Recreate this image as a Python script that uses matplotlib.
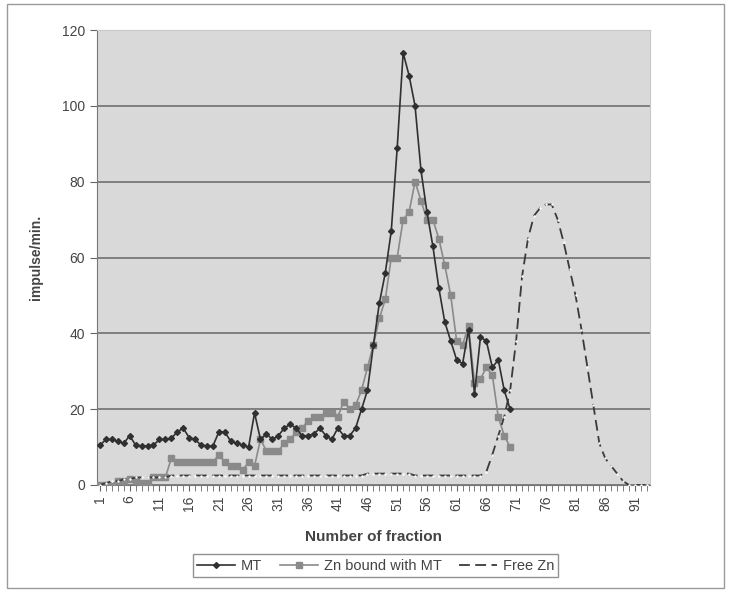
import matplotlib.pyplot as plt
from matplotlib.patches import Rectangle
from matplotlib.ticker import MultipleLocator

plt.rcParams['font.family'] = ['Liberation Sans', 'DejaVu Sans']

# fraction numbers on the category axis
fractions = list(range(1, 94))
tick_labels = [str(f) for f in range(1, 92, 5)]

# MT, fractions 1-70
mt = [10.5, 12, 12, 11.5, 11, 13, 10.5, 10.3, 10.3, 10.5,
      12, 12, 12.3, 14, 15, 12.5, 12, 10.5, 10.3, 10.3,
      14, 14, 11.5, 11, 10.5, 10, 19, 12, 13.5, 12,
      13, 15, 16, 15, 13, 13, 13.5, 15, 13, 12,
      15, 13, 13, 15, 20, 25, 37, 48, 56, 67,
      89, 114, 108, 100, 83, 72, 63, 52, 43, 38,
      33, 32, 41, 24, 39, 38, 31, 33, 25, 20]

# Zn bound with MT, fractions 1-70
zn_bound = [0, 0, 0, 1, 1, 1.5, 1, 0.5, 0.5, 2,
            2, 2, 7, 6, 6, 6, 6, 6, 6, 6,
            8, 6, 5, 5, 4, 6, 5, 12, 9, 9,
            9, 11, 12, 14, 15, 17, 18, 18, 19, 19,
            18, 22, 20, 21, 25, 31, 37, 44, 49, 60,
            60, 70, 72, 80, 75, 70, 70, 65, 58, 50,
            38, 37, 42, 27, 28, 31, 29, 18, 13, 10]

# Free Zn, fractions 1-93
free_zn = [0, 0.5, 1, 1, 1.5, 1.5, 2, 2, 2, 2,
           2, 2, 2.5, 2.5, 2.5, 2.5, 2.5, 2.5, 2.5, 2.5,
           2.5, 2.5, 2.5, 2.5, 2.5, 2.5, 2.5, 2.5, 2.5, 2.5,
           2.5, 2.5, 2.5, 2.5, 2.5, 2.5, 2.5, 2.5, 2.5, 2.5,
           2.5, 2.5, 2.5, 2.5, 2.5, 3, 3, 3, 3, 3,
           3, 3, 3, 2.5, 2.5, 2.5, 2.5, 2.5, 2.5, 2.5,
           2.5, 2.5, 2.5, 2.5, 2.5, 3.5, 8, 13, 18, 25,
           38, 55, 65, 71, 73, 74, 74, 70, 64, 57,
           50, 41, 31, 21, 11, 7, 5, 3, 1, 0,
           0, 0, 0]

fig = plt.figure(figsize=(7.31, 5.90), dpi=100)
ax = fig.add_axes([0.1327, 0.178, 0.7563, 0.771])
fig.patches.append(Rectangle((0.010, 0.004), 0.980, 0.989, transform=fig.transFigure,
                             fill=False, edgecolor='#9a9a9a', linewidth=1.0))

ax.set_facecolor('#d9d9d9')
ax.set_axisbelow(True)
ax.grid(axis='y', color='#707070', linewidth=1.2)

ax.plot(fractions[:len(mt)], mt, color='#303030', linewidth=1.2,
        marker='D', markersize=3, label='MT', zorder=4)
ax.plot(fractions[:len(zn_bound)], zn_bound, color='#8a8a8a', linewidth=1.2,
        marker='s', markersize=4, label='Zn bound with MT', zorder=3)
ax.plot(fractions, free_zn, color='#3a3a3a', linewidth=1.3,
        dashes=(6, 3), label='Free Zn', zorder=3)
ax.scatter(fractions, free_zn, s=3, color='white', zorder=3.5, linewidths=0)

ax.set_xlim(0.5, 93.5)
ax.set_ylim(0, 120)
ax.yaxis.set_major_locator(MultipleLocator(20))
ax.set_xticks(range(1, 92, 5))
ax.set_xticklabels(tick_labels, rotation=90)
ax.set_xticks(fractions, minor=True)
ax.tick_params(axis='x', which='both', direction='out', length=4, color='#666666')
ax.tick_params(axis='y', direction='out', length=5, color='#666666')
ax.tick_params(labelsize=10, labelcolor='#444444')

for side in ['left', 'bottom']:
    ax.spines[side].set_color('#777777')
for side in ['top', 'right']:
    ax.spines[side].set_color('#c8c8c8')

ax.set_ylabel('impulse/min.', fontsize=10, fontweight='bold', color='#444444', labelpad=14)
ax.set_xlabel('Number of fraction', fontsize=11, fontweight='bold', color='#444444', labelpad=14)

leg = fig.legend(loc='center', bbox_to_anchor=(0.514, 0.041), ncol=3, fontsize=10.5,
                 frameon=True, fancybox=False, edgecolor='#777777', handlelength=2.6,
                 columnspacing=1.2, handletextpad=0.4, borderpad=0.3)
for t in leg.get_texts():
    t.set_color('#444444')

fig.savefig('out.png', dpi=100)
